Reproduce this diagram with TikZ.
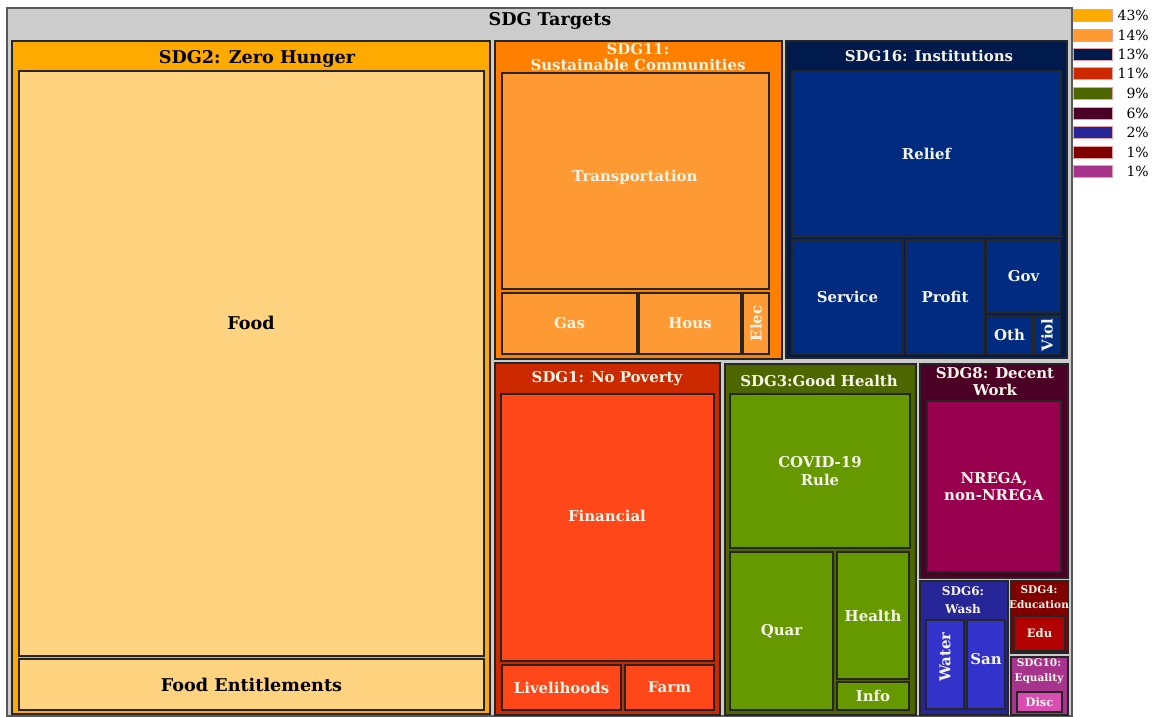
\documentclass[tikz,border=0pt]{standalone}
\usepackage{fontspec}
\setmainfont{DejaVu Serif}
\usetikzlibrary{positioning}

\definecolor{framegray}{RGB}{204,204,204}
\definecolor{hungerout}{RGB}{255,170,0}
\definecolor{hungerin}{RGB}{255,211,128}
\definecolor{commout}{RGB}{255,128,0}
\definecolor{commin}{RGB}{255,153,51}
\definecolor{instout}{RGB}{0,26,77}
\definecolor{instin}{RGB}{0,43,128}
\definecolor{povout}{RGB}{204,41,0}
\definecolor{povin}{RGB}{255,71,26}
\definecolor{healthout}{RGB}{77,102,0}
\definecolor{healthin}{RGB}{102,153,0}
\definecolor{workout}{RGB}{77,0,38}
\definecolor{workin}{RGB}{153,0,77}
\definecolor{washout}{RGB}{38,38,153}
\definecolor{washin}{RGB}{51,51,204}
\definecolor{eduout}{RGB}{128,0,0}
\definecolor{eduin}{RGB}{179,0,0}
\definecolor{eqout}{RGB}{166,51,140}
\definecolor{eqin}{RGB}{217,77,179}
\definecolor{labtxt}{RGB}{245,245,232}
\definecolor{legline}{RGB}{232,160,160}

\newdimen\pxu \pxu=0.75pt

\tikzset{
    tile/.style={draw=black!85, line width=0.8pt, anchor=north west, inner sep=0pt, outer sep=0pt},
    bigtxt/.style={font=\bfseries\fontsize{13.2}{15}\selectfont, text=black, align=center},
    midtxt/.style={font=\bfseries\fontsize{11.2}{13}\selectfont, text=labtxt, align=center},
    smalltxt/.style={font=\bfseries\fontsize{7.9}{11.3}\selectfont, text=labtxt, align=center},
    legbox/.style={draw=legline, line width=0.6pt, minimum width=39\pxu, minimum height=12\pxu, inner sep=0pt},
    legtxt/.style={font=\fontsize{10.5}{11}\selectfont, anchor=east, inner sep=0pt}
}

\begin{document}
\begin{tikzpicture}[x=0.75pt, y=-0.75pt]
    \useasboundingbox (0,0) rectangle (1158,717);

    % frame
    \node [tile, fill=framegray, draw=black!65, minimum width=1065\pxu, minimum height=708\pxu] (frame) at (7,8) {};
    \node [bigtxt] (frametitle) at (550,21) {SDG Targets};

    % SDG2
    \node [tile, fill=hungerout, minimum width=478\pxu, minimum height=673\pxu] (sdg2) at (12,41) {};
    \node [bigtxt] (sdg2title) at (257,58.5) {SDG2: Zero Hunger};
    \node [tile, fill=hungerin, minimum width=465\pxu, minimum height=585\pxu] (food) at (19,71) {};
    \node [bigtxt] at (251,323) {Food};
    \node [tile, fill=hungerin, minimum width=465\pxu, minimum height=51\pxu, bigtxt] (foodent) at (19,659) {Food Entitlements};

    % SDG11
    \node [tile, fill=commout, minimum width=287\pxu, minimum height=318\pxu] (sdg11) at (495,41) {};
    \node [tile, fill=commin, minimum width=267\pxu, minimum height=216\pxu] (transp) at (502,73) {};
    \node [midtxt, font=\bfseries\fontsize{11.2}{12.6}\selectfont] (sdg11title) at (638,57) {SDG11:\\Sustainable Communities};
    \node [midtxt] at (635,177) {Transportation};
    \node [tile, fill=commin, minimum width=135\pxu, minimum height=61\pxu, midtxt] (gas) at (502,293) {Gas};
    \node [tile, fill=commin, minimum width=102\pxu, minimum height=61\pxu, midtxt] (hous) at (639,293) {Hous};
    \node [tile, fill=commin, minimum width=26\pxu, minimum height=61\pxu] (elec) at (743,293) {};
    \node [midtxt, rotate=90] at (elec) {Elec};

    % SDG16
    \node [tile, fill=instout, minimum width=281\pxu, minimum height=317\pxu] (sdg16) at (786,41) {};
    \node [midtxt] (sdg16title) at (929,56) {SDG16: Institutions};
    \node [tile, fill=instin, minimum width=269\pxu, minimum height=166\pxu, midtxt] (relief) at (792,71) {Relief};
    \node [tile, fill=instin, minimum width=111\pxu, minimum height=114\pxu, midtxt] (service) at (792,240) {Service};
    \node [tile, fill=instin, minimum width=78\pxu, minimum height=114\pxu, midtxt] (profit) at (906,240) {Profit};
    \node [tile, fill=instin, minimum width=73\pxu, minimum height=73\pxu, midtxt] (gov) at (987,240) {Gov};
    \node [tile, fill=instin, minimum width=45\pxu, minimum height=38\pxu, midtxt] (oth) at (987,316) {Oth};
    \node [tile, fill=instin, minimum width=26\pxu, minimum height=38\pxu] (viol) at (1034,316) {};
    \node [midtxt, rotate=90] at (viol) {Viol};

    % SDG1
    \node [tile, fill=povout, minimum width=225\pxu, minimum height=352\pxu] (sdg1) at (495,363) {};
    \node [midtxt] (sdg1title) at (607,378.5) {SDG1: No Poverty};
    \node [tile, fill=povin, minimum width=213\pxu, minimum height=267\pxu] (financial) at (501,394) {};
    \node [midtxt] at (607,516) {Financial};
    \node [tile, fill=povin, minimum width=119\pxu, minimum height=45\pxu, midtxt] (liveli) at (502,665) {Livelihoods};
    \node [tile, fill=povin, minimum width=89\pxu, minimum height=45\pxu, midtxt] (farm) at (625,665) {Farm};

    % SDG3
    \node [tile, fill=healthout, minimum width=191\pxu, minimum height=351\pxu] (sdg3) at (725,364) {};
    \node [midtxt] (sdg3title) at (819,381) {SDG3:Good Health};
    \node [tile, fill=healthin, minimum width=180\pxu, minimum height=154\pxu, midtxt, font=\bfseries\fontsize{11.2}{13.5}\selectfont] (covid) at (730,394) {COVID-19\\Rule};
    \node [tile, fill=healthin, minimum width=103\pxu, minimum height=158\pxu, midtxt] (quar) at (730,552) {Quar};
    \node [tile, fill=healthin, minimum width=72\pxu, minimum height=127\pxu, midtxt] (health) at (837,552) {Health};
    \node [tile, fill=healthin, minimum width=72\pxu, minimum height=28\pxu, midtxt] (info) at (837,682) {Info};

    % SDG8
    \node [tile, fill=workout, minimum width=148\pxu, minimum height=214\pxu] (sdg8) at (920,364) {};
    \node [midtxt, font=\bfseries\fontsize{11.2}{12.8}\selectfont] (sdg8title) at (995,381.5) {SDG8: Decent\\Work};
    \node [tile, fill=workin, minimum width=134\pxu, minimum height=171\pxu, midtxt, font=\bfseries\fontsize{11.2}{12.8}\selectfont] (nrega) at (927,401) {NREGA,\\non-NREGA};

    % SDG6
    \node [tile, fill=washout, minimum width=88\pxu, minimum height=134\pxu] (sdg6) at (920,581) {};
    \node [smalltxt, font=\bfseries\fontsize{9}{13.5}\selectfont] (sdg6title) at (963,600) {SDG6:\\Wash};
    \node [tile, fill=washin, minimum width=38\pxu, minimum height=89\pxu] (water) at (926,620) {};
    \node [midtxt, rotate=90] at (945,657) {Water};
    \node [tile, fill=washin, minimum width=38\pxu, minimum height=89\pxu] (san) at (967,620) {};
    \node [midtxt] at (986,659) {San};

    % SDG4
    \node [tile, fill=eduout, minimum width=57\pxu, minimum height=72\pxu] (sdg4) at (1011,581) {};
    \node [smalltxt] (sdg4title) at (1039,597.5) {SDG4:\\Education};
    \node [tile, fill=eduin, minimum width=51\pxu, minimum height=35\pxu, smalltxt, font=\bfseries\fontsize{8.7}{10}\selectfont] (edu) at (1014,616) {Edu};

    % SDG10
    \node [tile, fill=eqout, minimum width=57\pxu, minimum height=58\pxu] (sdg10) at (1011,657) {};
    \node [smalltxt] (sdg10title) at (1039,671.5) {SDG10:\\Equality};
    \node [tile, fill=eqin, minimum width=45\pxu, minimum height=20\pxu, smalltxt, font=\bfseries\fontsize{8.7}{10}\selectfont] (disc) at (1017,692) {Disc};

    % legend
    \node [legbox, fill=hungerout] (leg1) at (1093,15) {};
    \node [legbox, fill=commin] (leg2) at (1093,35) {};
    \node [legbox, fill=instout] (leg3) at (1093,54) {};
    \node [legbox, fill=povout] (leg4) at (1093,73) {};
    \node [legbox, fill=healthout] (leg5) at (1093,93) {};
    \node [legbox, fill=workout] (leg6) at (1093,113) {};
    \node [legbox, fill=washout] (leg7) at (1093,132) {};
    \node [legbox, fill=eduout] (leg8) at (1093,152) {};
    \node [legbox, fill=eqout] (leg9) at (1093,171) {};

    \node [legtxt] at (1149,15) {43\%};
    \node [legtxt] at (1149,35) {14\%};
    \node [legtxt] at (1149,54) {13\%};
    \node [legtxt] at (1149,73) {11\%};
    \node [legtxt] at (1149,93) {9\%};
    \node [legtxt] at (1149,113) {6\%};
    \node [legtxt] at (1149,132) {2\%};
    \node [legtxt] at (1149,152) {1\%};
    \node [legtxt] at (1149,171) {1\%};
\end{tikzpicture}
\end{document}
